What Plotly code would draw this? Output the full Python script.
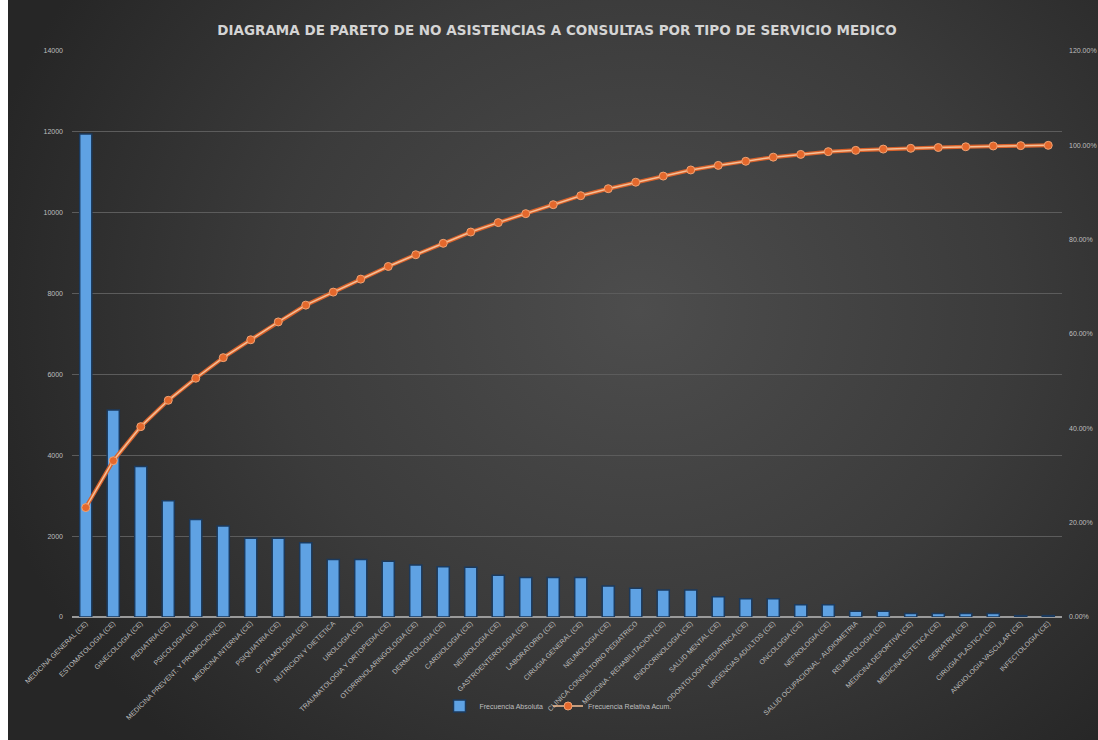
import base64
import numpy as np
import plotly.graph_objects as go

# Servicios médicos (orden de Pareto) y número de no asistencias
servicios = [
    "MEDICINA GENERAL (CE)", "ESTOMATOLOGIA (CE)", "GINECOLOGIA (CE)", "PEDIATRIA (CE)",
    "PSICOLOGIA (CE)", "MEDICINA PREVENT. Y PROMOCION(CE)", "MEDICINA INTERNA (CE)",
    "PSIQUIATRIA (CE)", "OFTALMOLOGIA (CE)", "NUTRICION Y DIETETICA", "UROLOGIA (CE)",
    "TRAUMATOLOGIA Y ORTOPEDIA (CE)", "OTORRINOLARINGOLOGIA (CE)", "DERMATOLOGIA (CE)",
    "CARDIOLOGIA (CE)", "NEUROLOGIA (CE)", "GASTROENTEROLOGIA (CE)", "LABORATORIO (CE)",
    "CIRUGIA GENERAL (CE)", "NEUMOLOGIA (CE)", "CLINICA CONSULTORIO PEDIATRICO",
    "MEDICINA - REHABILITACION (CE)", "ENDOCRINOLOGIA (CE)", "SALUD MENTAL (CE)",
    "ODONTOLOGIA PEDIATRICA (CE)", "URGENCIAS ADULTOS (CE)", "ONCOLOGIA (CE)",
    "NEFROLOGIA (CE)", "SALUD OCUPACIONAL - AUDIOMETRIA", "REUMATOLOGIA (CE)",
    "MEDICINA DEPORTIVA (CE)", "MEDICINA ESTETICA (CE)", "GERIATRIA (CE)",
    "CIRUGIA PLASTICA (CE)", "ANGIOLOGIA VASCULAR (CE)", "INFECTOLOGIA (CE)",
]
frecuencia_absoluta = [
    11950, 5120, 3720, 2875, 2410, 2250, 1950, 1950, 1835, 1420, 1420, 1380,
    1285, 1245, 1230, 1030, 980, 980, 980, 765, 710, 668, 668, 500,
    450, 450, 300, 300, 140, 140, 85, 85, 85, 85, 35, 35,
]

left_ticks = [0, 2000, 4000, 6000, 8000, 10000, 12000, 14000]
left_tick_text = ["0", "2000", "4000", "6000", "8000", "10000", "12000", "14000"]
right_ticks = [0, 20, 40, 60, 80, 100, 120]
right_tick_text = ["0.00%", "20.00%", "40.00%", "60.00%", "80.00%", "100.00%", "120.00%"]

# Frecuencia relativa acumulada (%)
frec = np.array(frecuencia_absoluta, dtype=float)
frecuencia_acumulada = np.cumsum(frec) / frec.sum() * 100

W, H = 1098, 740
L, R, T, B = 72, 36, 51, 123
plot_w = W - L - R
plot_h = H - T - B

# Fondo oscuro con degradado radial
svg = f"""<svg xmlns='http://www.w3.org/2000/svg' width='{W}' height='{H}' viewBox='0 0 {W} {H}' preserveAspectRatio='none'>
<defs><radialGradient id='g' cx='0.58' cy='0.42' r='0.62' gradientTransform='translate(0.58 0.42) scale(1 1.3) translate(-0.58 -0.42)'>
<stop offset='0' stop-color='#4d4d4d'/><stop offset='0.55' stop-color='#3b3b3b'/><stop offset='1' stop-color='#262626'/></radialGradient></defs>
<rect x='8' y='0' width='{W-8}' height='{H}' fill='url(#g)'/></svg>"""
bg_uri = "data:image/svg+xml;base64," + base64.b64encode(svg.encode()).decode()

fig = go.Figure()

fig.add_trace(go.Bar(
    x=servicios, y=frecuencia_absoluta, name="Frecuencia Absoluta",
    marker=dict(color="#5fa2e3", line=dict(color="#1b3a5e", width=1.5)),
    yaxis="y",
))
fig.add_trace(go.Scatter(
    x=servicios, y=frecuencia_acumulada, yaxis="y2", mode="lines",
    line=dict(color="#d8612a", width=4), showlegend=False, hoverinfo="skip",
))
fig.add_trace(go.Scatter(
    x=servicios, y=frecuencia_acumulada, yaxis="y2", mode="lines+markers",
    name="Frecuencia Relativa Acum.",
    line=dict(color="#f5bf96", width=1.5),
    marker=dict(size=8, color="#e4682c", line=dict(color="#f0a374", width=1)),
))

tick_font = dict(family="Liberation Sans, Arial", size=7, color="#bfbfbf")

fig.update_layout(
    width=W, height=H,
    margin=dict(l=L, r=R, t=T, b=B),
    paper_bgcolor="white",
    plot_bgcolor="rgba(0,0,0,0)",
    bargap=0.56,
    title=dict(
        text="DIAGRAMA DE PARETO DE NO ASISTENCIAS A CONSULTAS POR TIPO DE SERVICIO MEDICO",
        x=557 / W, xanchor="center", y=1 - 30 / H, yanchor="middle",
        font=dict(family="DejaVu Sans, Arial", size=13.5, color="#d4d4d4", weight="bold"),
    ),
    xaxis=dict(
        range=[-0.5, len(servicios) - 0.5],
        tickangle=-45, tickfont=tick_font, showgrid=False, ticks="",
        showline=False, automargin=False,
    ),
    yaxis=dict(
        range=[0, 14000], tickvals=left_ticks, ticktext=left_tick_text,
        tickfont=tick_font, gridcolor="#5c5c5c", gridwidth=1,
        zeroline=True, zerolinecolor="#9a9a9a", zerolinewidth=2,
        ticks="", automargin=False, ticklabelstandoff=8,
    ),
    yaxis2=dict(
        range=[0, 120], tickvals=right_ticks, ticktext=right_tick_text,
        overlaying="y", side="right", showgrid=False, zeroline=False,
        tickfont=tick_font, ticks="", automargin=False, ticklabelstandoff=6,
    ),
    legend=dict(
        orientation="h", x=(558 - L) / plot_w,
        xanchor="center", y=(H - B - 706) / plot_h, yanchor="middle",
        font=dict(family="Liberation Sans, Arial", size=7, color="#bfbfbf"),
        bgcolor="rgba(0,0,0,0)",
    ),
    images=[dict(
        source=bg_uri, xref="paper", yref="paper",
        x=-L / plot_w, y=(H - B) / plot_h, sizex=W / plot_w, sizey=H / plot_h,
        xanchor="left", yanchor="top", sizing="stretch", layer="below",
    )],
)

fig.write_html("out.html")
